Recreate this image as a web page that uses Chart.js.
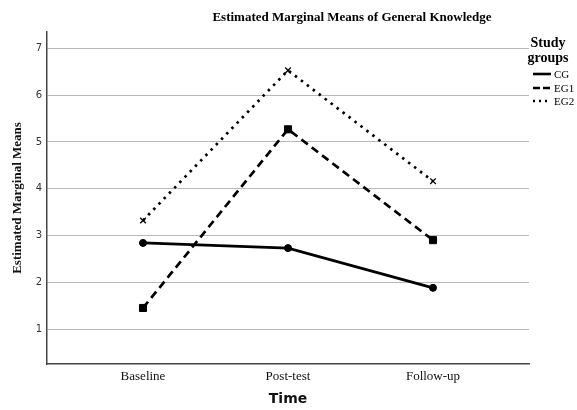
<!DOCTYPE html>
<html>
<head>
<meta charset="utf-8">
<script src="https://cdn.jsdelivr.net/npm/chart.js@4.4.1/dist/chart.umd.min.js"></script>
<style>
  body { margin: 0; background: #fff; }
  canvas { display: block; }
</style>
</head>
<body>
<canvas id="emmChart" width="577" height="410"></canvas>
<script>
// values
const timeLabels = ["Baseline", "Post-test", "Follow-up"];
const groupNames = ["CG", "EG1", "EG2"];
const cgMeans  = [2.84, 2.73, 1.88];
const eg1Means = [1.45, 5.27, 2.90];
const eg2Means = [3.32, 6.53, 4.16];
const yTickValues = [1, 2, 3, 4, 5, 6, 7];

const serif = "'Liberation Serif', 'Times New Roman', serif";
const sans = "'DejaVu Sans', 'Liberation Sans', sans-serif";

function toPoints(vals) {
	return vals.map((v, i) => ({x: i, y: v}));
}

const lineStyles = [
	{dash: [],       pointStyle: 'circle',   radius: 3.5, pointBorder: 1},
	{dash: [8, 5],   pointStyle: 'rect',     radius: 5,   pointBorder: 1},
	{dash: [2.5, 5], pointStyle: 'crossRot', radius: 4,   pointBorder: 1.3}
];
const seriesVals = [cgMeans, eg1Means, eg2Means];

let datasets = [];
for (let i = 0; i < groupNames.length; i++) {
	let st = lineStyles[i];
	datasets.push({
		label: groupNames[i],
		data: toPoints(seriesVals[i]),
		borderColor: '#000',
		backgroundColor: '#000',
		borderWidth: 2.7,
		borderDash: st.dash,
		pointStyle: st.pointStyle,
		pointRadius: st.radius,
		pointBorderWidth: st.pointBorder,
		pointBackgroundColor: '#000',
		pointBorderColor: '#000',
		tension: 0
	});
}

// title + "Study groups" legend drawn by hand, SPSS style
const extras = {
	id: 'extras',
	afterDraw(chart) {
		const ctx = chart.ctx;
		ctx.save();
		ctx.fillStyle = '#000';
		ctx.textBaseline = 'middle';
		ctx.textAlign = 'center';
		ctx.font = "bold 13px " + serif;
		ctx.fillText("Estimated Marginal Means of General Knowledge", 352, 18);

		ctx.font = "bold 14px " + serif;
		ctx.fillText("Study", 548, 43);
		ctx.fillText("groups", 548, 58);

		ctx.textAlign = 'left';
		ctx.font = "11px " + serif;
		let ys = [74, 88, 101];
		for (let i = 0; i < groupNames.length; i++) {
			ctx.beginPath();
			ctx.lineWidth = 2.6;
			ctx.strokeStyle = '#000';
			ctx.setLineDash(i == 1 ? [7, 3] : (i == 2 ? [2, 4] : []));
			ctx.moveTo(533, ys[i]);
			ctx.lineTo(551, ys[i]);
			ctx.stroke();
			ctx.setLineDash([]);
			ctx.fillText(groupNames[i], 554, ys[i] + 1);
		}
		ctx.restore();
	}
};

new Chart(document.getElementById('emmChart'), {
	type: 'line',
	data: {datasets: datasets},
	plugins: [extras],
	options: {
		responsive: false,
		animation: false,
		layout: {padding: {top: 32, right: 48, left: 0, bottom: 0}},
		plugins: {
			legend: {display: false},
			title: {display: false},
			tooltip: {enabled: false}
		},
		scales: {
			x: {
				type: 'linear',
				min: -0.662, max: 2.662,
				afterBuildTicks: (scale) => { scale.ticks = timeLabels.map((_, i) => ({value: i})); },
				afterFit: (scale) => { scale.height = 46; },
				ticks: {
					callback: (v) => timeLabels[v],
					font: {family: serif, size: 13},
					color: '#111',
					padding: 5,
					maxRotation: 0
				},
				grid: {display: false, drawTicks: false},
				border: {display: true, color: '#444', width: 1.5},
				title: {display: true, text: 'Time', font: {family: sans, size: 14, weight: 'bold'}, color: '#111', padding: {top: 0, bottom: 2}}
			},
			y: {
				min: 0.252, max: 7.35,
				afterBuildTicks: (scale) => { scale.ticks = yTickValues.map(v => ({value: v})); },
				afterFit: (scale) => { scale.width = 47; },
				ticks: {
					font: {family: sans, size: 10},
					color: '#333',
					padding: 5
				},
				grid: {color: '#b8b8b8', lineWidth: 1, drawTicks: false},
				border: {display: true, color: '#444', width: 1.5},
				title: {display: true, text: 'Estimated Marginal Means', font: {family: serif, size: 13, weight: 'bold'}, color: '#111', padding: {top: 10, bottom: 0}}
			}
		}
	}
});
</script>
</body>
</html>
